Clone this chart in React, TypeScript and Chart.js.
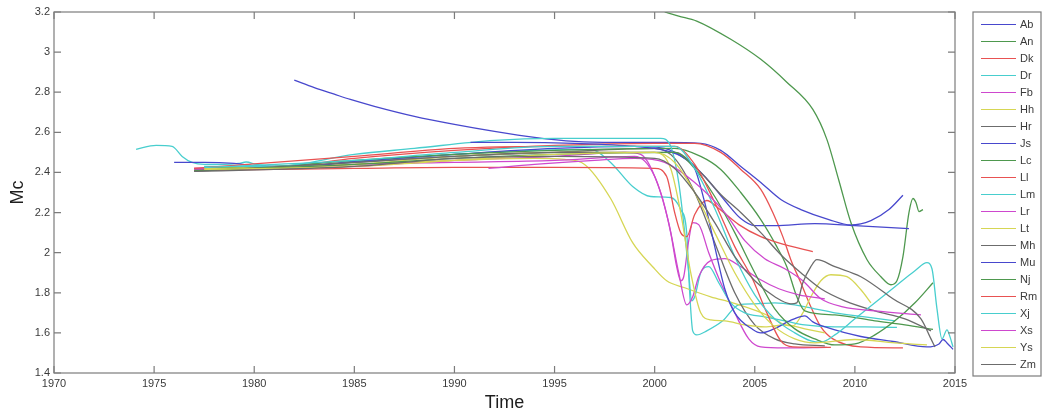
import React, { useEffect, useRef } from 'react';
import { Chart, registerables } from 'chart.js';

Chart.register(...registerables);

type Pt = [number, number];

const seriesNames = ['Ab', 'An', 'Dk', 'Dr', 'Fb', 'Hh', 'Hr', 'Js', 'Lc', 'Ll', 'Lm', 'Lr', 'Lt', 'Mh', 'Mu', 'Nj', 'Rm', 'Xj', 'Xs', 'Ys', 'Zm'];

// MATLAB-like colour order: blue, green, red, cyan, magenta, yellow, grey
const palette = [
  'rgb(72,72,205)',
  'rgb(78,152,78)',
  'rgb(232,82,82)',
  'rgb(72,206,206)',
  'rgb(206,72,206)',
  'rgb(214,214,84)',
  'rgb(108,108,108)',
];

const xTicks = [1970, 1975, 1980, 1985, 1990, 1995, 2000, 2005, 2010, 2015];
const yTicks = [1.4, 1.6, 1.8, 2, 2.2, 2.4, 2.6, 2.8, 3, 3.2];

const ab: Pt[] = [[1982, 2.86], [1983, 2.823], [1984, 2.79], [1984.8, 2.764], [1986, 2.73], [1988, 2.68], [1990, 2.64], [1992, 2.605], [1994, 2.575], [1996, 2.555], [1998, 2.55], [2000.5, 2.55], [2002.3, 2.545], [2003.3, 2.51], [2004.3, 2.43], [2005.3, 2.35], [2006.3, 2.265], [2007.3, 2.215], [2008.7, 2.165], [2009.8, 2.138], [2010.8, 2.16], [2011.7, 2.215], [2012.4, 2.286]];
const an: Pt[] = [[2000.5, 3.2], [2001.2, 3.18], [2002.1, 3.155], [2003.8, 3.064], [2005.3, 2.964], [2006.6, 2.85], [2007.9, 2.714], [2008.6, 2.565], [2009.2, 2.36], [2009.8, 2.15], [2010.6, 1.966], [2011.3, 1.88], [2011.8, 1.84], [2012.1, 1.86], [2012.4, 1.98], [2012.7, 2.2], [2012.9, 2.27], [2013.05, 2.25], [2013.2, 2.205], [2013.4, 2.215]];
const dk: Pt[] = [[1977, 2.42], [1981, 2.425], [1985, 2.47], [1990, 2.51], [1995, 2.535], [2000, 2.545], [2002, 2.545], [2003.3, 2.5], [2004.3, 2.415], [2005.3, 2.315], [2005.9, 2.2], [2006.4, 2.08], [2006.8, 1.965], [2007.3, 1.85], [2007.8, 1.73], [2008.3, 1.63], [2008.9, 1.57], [2010.3, 1.53], [2012.4, 1.525]];
const dr: Pt[] = [[1974.1, 2.515], [1975.1, 2.535], [1975.9, 2.53], [1976.4, 2.48], [1976.9, 2.45], [1977.5, 2.44], [1978.5, 2.44], [1979.2, 2.445], [1979.6, 2.452], [1980.1, 2.44], [1981, 2.43], [1983, 2.435], [1986, 2.46], [1990, 2.49], [1994, 2.51], [1996.8, 2.515], [1997.8, 2.45], [1998.9, 2.33], [1999.8, 2.28], [2000.8, 2.275], [2001.3, 2.215], [2001.6, 2.1], [2001.75, 1.8], [2001.9, 1.61], [2002.1, 1.59], [2002.6, 1.61], [2003.4, 1.66], [2004.2, 1.74], [2005, 1.745], [2006, 1.75], [2007, 1.74], [2008, 1.72], [2009, 1.7], [2010.5, 1.68], [2012, 1.66]];
const fb: Pt[] = [[1977, 2.42], [1981, 2.42], [1985, 2.43], [1990, 2.46], [1995, 2.48], [1998.5, 2.5], [1999.3, 2.49], [2000.3, 2.3], [2000.8, 2.1], [2001.1, 1.93], [2001.3, 1.86], [2001.45, 1.88], [2001.7, 2.06], [2001.9, 2.15], [2002.2, 2.14], [2002.7, 2.0], [2003.3, 1.85], [2004, 1.7], [2004.7, 1.57], [2005.3, 1.53], [2006.5, 1.525], [2008.6, 1.528]];
const hh: Pt[] = [[1977.5, 2.42], [1981, 2.42], [1985, 2.44], [1990, 2.46], [1994, 2.47], [1995.5, 2.465], [1996.5, 2.44], [1997.8, 2.27], [1998.9, 2.05], [1999.9, 1.93], [2000.6, 1.86], [2001.5, 1.825], [2002.8, 1.78], [2003.9, 1.75], [2005.1, 1.71], [2005.8, 1.68], [2006.5, 1.64], [2006.9, 1.635], [2007.4, 1.7], [2007.8, 1.78], [2008.3, 1.86], [2008.8, 1.89], [2009.6, 1.88], [2010.3, 1.815], [2010.8, 1.75]];
const hr: Pt[] = [[1977, 2.41], [1981, 2.42], [1985, 2.45], [1990, 2.48], [1995, 2.5], [2000, 2.52], [2001, 2.47], [2002, 2.3], [2003, 2.05], [2004, 1.8], [2005, 1.64], [2006, 1.57], [2007, 1.545], [2008.5, 1.535]];
const js: Pt[] = [[1976, 2.45], [1977.5, 2.45], [1979, 2.445], [1980.5, 2.43], [1982, 2.43], [1985, 2.455], [1990, 2.49], [1995, 2.52], [1999, 2.53], [2000.5, 2.52], [2001.5, 2.47], [2002.5, 2.38], [2003.5, 2.26], [2004.3, 2.17], [2005, 2.135], [2006, 2.135], [2008, 2.145], [2010, 2.135], [2012.7, 2.12]];
const lc: Pt[] = [[1977.5, 2.425], [1981, 2.43], [1985, 2.46], [1990, 2.49], [1995, 2.51], [2001, 2.52], [2002.3, 2.48], [2003.3, 2.415], [2004.3, 2.3], [2005.3, 2.165], [2006.1, 2.03], [2006.6, 1.93], [2007.1, 1.78], [2007.5, 1.71], [2009, 1.69], [2011, 1.66], [2012.5, 1.64], [2013.9, 1.617]];
const ll: Pt[] = [[1977, 2.41], [1981, 2.415], [1985, 2.42], [1990, 2.425], [1995, 2.425], [2000, 2.42], [2000.6, 2.38], [2001, 2.2], [2001.3, 2.1], [2001.6, 2.08], [2002, 2.19], [2002.6, 2.26], [2003.2, 2.22], [2004.2, 2.14], [2005.3, 2.08], [2006.5, 2.04], [2007.9, 2.005]];
const lm: Pt[] = [[1977.5, 2.43], [1981, 2.43], [1985, 2.49], [1988, 2.52], [1992, 2.56], [1995, 2.57], [2000.3, 2.57], [2000.8, 2.53], [2001.2, 2.35], [2001.5, 2.1], [2001.7, 1.9], [2001.85, 1.76], [2002, 1.78], [2002.3, 1.9], [2002.7, 1.93], [2003.2, 1.85], [2003.8, 1.75], [2004.5, 1.7], [2005.5, 1.68], [2006.5, 1.66], [2007.5, 1.64], [2009, 1.63], [2010.5, 1.63], [2012.1, 1.627]];
const lr: Pt[] = [[1977, 2.415], [1981, 2.42], [1985, 2.44], [1990, 2.45], [1995, 2.46], [1999, 2.48], [2000, 2.38], [2000.7, 2.15], [2001.2, 1.9], [2001.6, 1.74], [2001.9, 1.78], [2002.2, 1.88], [2002.8, 1.96], [2003.5, 1.97], [2004.3, 1.93], [2005.2, 1.87], [2006.2, 1.82], [2007.2, 1.79], [2008.5, 1.77]];
const lt: Pt[] = [[1977.5, 2.42], [1981, 2.425], [1985, 2.44], [1990, 2.48], [1995, 2.5], [2000, 2.5], [2000.8, 2.42], [2001.3, 2.2], [2001.8, 1.9], [2002.3, 1.7], [2002.8, 1.665], [2003.5, 1.66], [2004.5, 1.64], [2005.5, 1.63], [2006.5, 1.64], [2007.5, 1.62], [2008.5, 1.6]];
const mh: Pt[] = [[1977, 2.405], [1985, 2.45], [1990, 2.48], [1995, 2.5], [2001, 2.5], [2002.3, 2.4], [2003.3, 2.29], [2004.3, 2.2], [2005.3, 2.1], [2006.3, 1.99], [2007.3, 1.9], [2008.3, 1.82], [2009.5, 1.76], [2011, 1.71], [2012.5, 1.67], [2013.8, 1.61]];
const mu: Pt[] = [[1990.8, 2.55], [1993, 2.55], [1996, 2.545], [1999, 2.53], [2000.5, 2.51], [2001.5, 2.47], [2002, 2.42], [2002.5, 2.25], [2003, 2.03], [2003.5, 1.82], [2004, 1.7], [2004.9, 1.617], [2005.3, 1.6], [2005.9, 1.617], [2006.9, 1.667], [2007.5, 1.685], [2007.9, 1.655], [2008.6, 1.627], [2010.3, 1.582], [2011.9, 1.557], [2013.6, 1.53], [2014.2, 1.545], [2014.4, 1.567], [2014.6, 1.55], [2014.9, 1.518]];
const nj: Pt[] = [[1977, 2.41], [1985, 2.44], [1990, 2.47], [1995, 2.49], [2001, 2.5], [2002, 2.42], [2003, 2.28], [2004, 2.1], [2005, 1.9], [2006, 1.72], [2007, 1.62], [2008, 1.57], [2009, 1.54], [2010, 1.545], [2011, 1.59], [2012, 1.66], [2013, 1.75], [2013.9, 1.85]];
const rm: Pt[] = [[1977, 2.42], [1985, 2.48], [1990, 2.52], [1995, 2.53], [2001, 2.53], [2002, 2.44], [2003, 2.25], [2004, 2.03], [2004.9, 1.866], [2005.6, 1.7], [2006.3, 1.56], [2006.9, 1.53], [2008.8, 1.528]];
const xj: Pt[] = [[1977.5, 2.425], [1985, 2.46], [1990, 2.5], [1995, 2.53], [2001, 2.53], [2002, 2.42], [2003, 2.22], [2004, 1.98], [2005, 1.79], [2006, 1.67], [2007, 1.6], [2007.8, 1.56], [2008.3, 1.553], [2009, 1.59], [2010, 1.67], [2011, 1.75], [2012, 1.83], [2013, 1.91], [2013.6, 1.95], [2013.85, 1.92], [2014.1, 1.72], [2014.35, 1.57], [2014.6, 1.615], [2014.75, 1.58], [2014.9, 1.53]];
const xs: Pt[] = [[1991.7, 2.42], [1994, 2.44], [1997, 2.46], [1999, 2.47], [2000.5, 2.45], [2002, 2.35], [2003.5, 2.2], [2004.5, 2.06], [2005.5, 1.97], [2006.5, 1.92], [2007.4, 1.86], [2008.3, 1.77], [2009.4, 1.73], [2011, 1.71], [2013.3, 1.69]];
const ys: Pt[] = [[1977.5, 2.415], [1985, 2.43], [1990, 2.46], [1995, 2.49], [2000, 2.5], [2001, 2.45], [2002, 2.3], [2003, 2.1], [2004, 1.9], [2005, 1.74], [2006, 1.63], [2007, 1.57], [2008, 1.55], [2010, 1.567], [2012, 1.55], [2013.6, 1.54]];
const zm: Pt[] = [[1977, 2.405], [1981, 2.415], [1985, 2.43], [1990, 2.47], [1995, 2.48], [2000, 2.47], [2001, 2.42], [2002, 2.3], [2003, 2.15], [2004, 1.98], [2005, 1.86], [2006, 1.78], [2006.8, 1.745], [2007.1, 1.75], [2007.4, 1.85], [2007.8, 1.93], [2008.1, 1.965], [2009, 1.93], [2010.3, 1.88], [2011.9, 1.77], [2013.3, 1.67], [2013.8, 1.57], [2014, 1.53]];

const seriesValues: Pt[][] = [ab, an, dk, dr, fb, hh, hr, js, lc, ll, lm, lr, lt, mh, mu, nj, rm, xj, xs, ys, zm];

const FONT = '"Liberation Sans", Arial, Helvetica, sans-serif';
const AXIS_GREY = '#7c7c7c';
const TEXT_GREY = '#3a3a3a';

// Inward tick marks on all four sides plus the closed axes box
const axesBoxPlugin = {
  id: 'axesBox',
  afterDatasetsDraw(chart: any) {
    const { ctx, chartArea, scales } = chart;
    const { left, right, top, bottom } = chartArea;
    const len = 7;
    ctx.save();
    ctx.strokeStyle = AXIS_GREY;
    ctx.lineWidth = 1.2;
    ctx.beginPath();
    scales.x.ticks.forEach((t: any) => {
      const px = scales.x.getPixelForValue(t.value);
      ctx.moveTo(px, bottom);
      ctx.lineTo(px, bottom - len);
      ctx.moveTo(px, top);
      ctx.lineTo(px, top + len);
    });
    scales.y.ticks.forEach((t: any) => {
      const py = scales.y.getPixelForValue(t.value);
      ctx.moveTo(left, py);
      ctx.lineTo(left + len, py);
      ctx.moveTo(right, py);
      ctx.lineTo(right - len, py);
    });
    ctx.stroke();
    ctx.strokeRect(left, top, right - left, bottom - top);
    ctx.restore();
  },
};

// Boxed legend to the right of the axes
const boxLegendPlugin = {
  id: 'boxLegend',
  afterDraw(chart: any) {
    const { ctx, chartArea } = chart;
    const boxLeft = chartArea.right + 18;
    const boxRight = chart.width - 5;
    const boxTop = chartArea.top;
    const boxBottom = chartArea.bottom + 3;
    ctx.save();
    ctx.fillStyle = '#ffffff';
    ctx.fillRect(boxLeft, boxTop, boxRight - boxLeft, boxBottom - boxTop);
    ctx.strokeStyle = AXIS_GREY;
    ctx.lineWidth = 1.2;
    ctx.strokeRect(boxLeft, boxTop, boxRight - boxLeft, boxBottom - boxTop);
    const rowH = 17;
    const firstY = boxTop + 12.5;
    ctx.font = `11px ${FONT}`;
    ctx.textBaseline = 'middle';
    ctx.textAlign = 'left';
    chart.data.datasets.forEach((ds: any, i: number) => {
      const y = firstY + i * rowH;
      ctx.strokeStyle = ds.borderColor;
      ctx.lineWidth = 1.2;
      ctx.beginPath();
      ctx.moveTo(boxLeft + 8, y);
      ctx.lineTo(boxLeft + 43, y);
      ctx.stroke();
      ctx.fillStyle = TEXT_GREY;
      ctx.fillText(ds.label, boxLeft + 47, y + 0.5);
    });
    ctx.restore();
  },
};

export default function App() {
  const canvasRef = useRef<HTMLCanvasElement | null>(null);

  useEffect(() => {
    if (!canvasRef.current) return;
    const datasets = seriesNames.map((name, i) => ({
      label: name,
      data: seriesValues[i].map(([x, y]) => ({ x, y })),
      borderColor: palette[i % palette.length],
      backgroundColor: palette[i % palette.length],
      borderWidth: 1.3,
      pointRadius: 0,
      pointHoverRadius: 0,
      fill: false,
      cubicInterpolationMode: 'monotone' as const,
      order: seriesNames.length - i,
    }));

    const chart = new Chart(canvasRef.current, {
      type: 'line',
      data: { datasets },
      plugins: [axesBoxPlugin, boxLegendPlugin],
      options: {
        animation: false,
        responsive: false,
        devicePixelRatio: 1,
        parsing: true,
        layout: { padding: { top: 12, right: 91, bottom: 0, left: 0 } },
        plugins: {
          legend: { display: false },
          tooltip: { enabled: false },
        },
        scales: {
          x: {
            type: 'linear',
            min: 1970,
            max: 2015,
            afterBuildTicks: (s: any) => {
              s.ticks = xTicks.map((v) => ({ value: v }));
            },
            afterFit: (s: any) => {
              s.height = 41;
            },
            ticks: {
              autoSkip: false,
              maxRotation: 0,
              padding: 4,
              color: TEXT_GREY,
              font: { family: FONT, size: 11 },
              callback: (v: any) => String(v),
            },
            grid: { display: false, drawTicks: false },
            border: { display: false },
            title: {
              display: true,
              text: 'Time',
              color: '#1e1e1e',
              font: { family: FONT, size: 18 },
              padding: { top: 0, bottom: 0 },
            },
          },
          y: {
            type: 'linear',
            min: 1.4,
            max: 3.2,
            afterBuildTicks: (s: any) => {
              s.ticks = yTicks.map((v) => ({ value: v }));
            },
            afterFit: (s: any) => {
              s.width = 54;
            },
            ticks: {
              autoSkip: false,
              padding: 4,
              color: TEXT_GREY,
              font: { family: FONT, size: 11 },
              callback: (v: any) => String(Math.round(Number(v) * 10) / 10),
            },
            grid: { display: false, drawTicks: false },
            border: { display: false },
            title: {
              display: true,
              text: 'Mc',
              color: '#1e1e1e',
              font: { family: FONT, size: 18 },
              padding: { top: 7, bottom: 0 },
            },
          },
        },
      },
    });
    return () => chart.destroy();
  }, []);

  return (
    <div style={{ position: 'absolute', left: 0, top: 0, width: 1046, height: 414, background: '#fff' }}>
      <canvas ref={canvasRef} width={1046} height={414} style={{ display: 'block' }} />
    </div>
  );
}
